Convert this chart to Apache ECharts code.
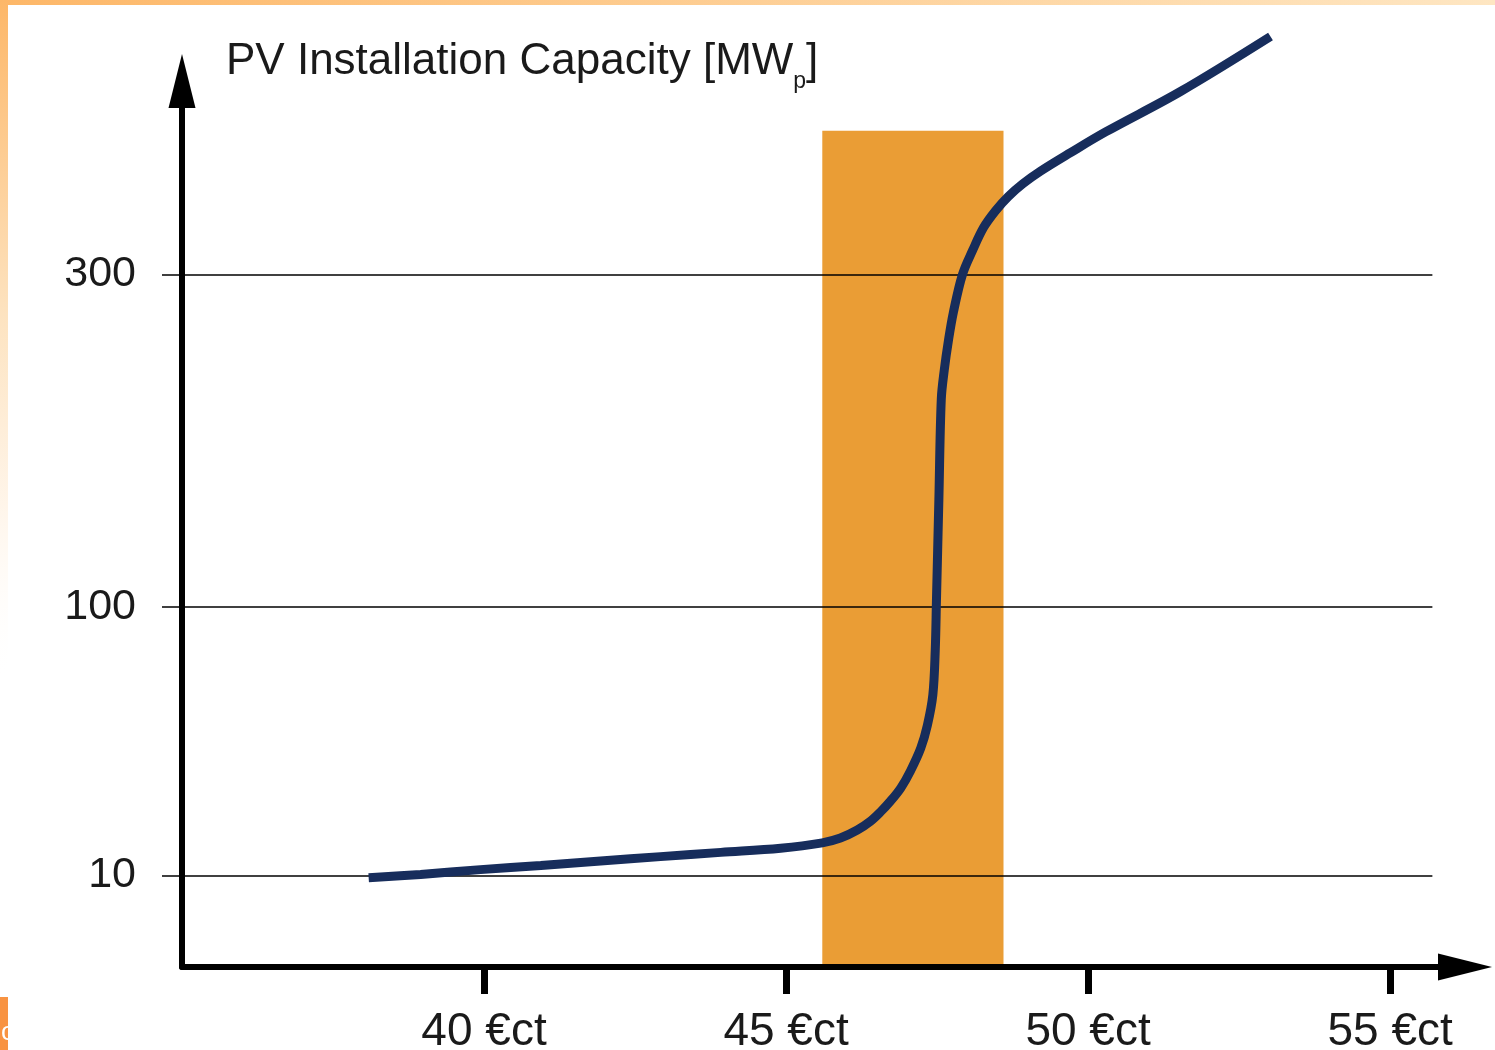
<!DOCTYPE html>
<html><head><meta charset="utf-8">
<script src="https://cdn.jsdelivr.net/npm/echarts@6/dist/echarts.min.js"></script>
<style>html,body{margin:0;padding:0;background:#fff}#c{width:1495px;height:1050px}</style>
</head><body><div id="c"></div>
<script>
// Feed-in tariff (€ct) vs PV installation capacity (MWp)
const priceCt = [38.09, 38.95, 39.94, 40.94, 41.93, 42.92, 43.92, 44.91, 45.60, 45.90, 46.18, 46.40, 46.56, 46.73, 46.90, 47.06, 47.23, 47.34, 47.43, 47.47, 47.49, 47.53, 47.57, 47.62, 47.69, 47.77, 47.92, 48.09, 48.27, 48.47, 48.68, 48.92, 49.21, 49.71, 50.29, 51.53, 53.02];
const capacityMWp = [9.6, 10.2, 11.1, 11.9, 12.8, 13.7, 14.6, 15.5, 16.7, 17.8, 19.7, 21.9, 24.2, 27.2, 30.9, 36.0, 43.3, 51.2, 62.4, 80.6, 103, 155, 215, 234, 254, 273, 300, 318, 335, 348, 359, 369, 379, 394, 411, 445, 493];
const xTickValues = [40, 45, 50, 55];
const yTickValues = [10, 100, 300];
const bandPrice = [45.6, 48.6];
const bandTopMWp = 412;
const yAxisTopMWp = 454;
const xAxisMin = 35, xAxisMax = 56.24, gridEndPrice = 55.7;
const P = 0.595;                       // schematic (power) scale of the y axis
const T = v => Math.pow(v, P);
const Tinv = u => Math.pow(u, 1 / P);

const FONT = '"Liberation Sans", Arial, Helvetica, sans-serif';
const TXT = '#1a1a1a';
const chart = echarts.init(document.getElementById('c'), null, {renderer: 'canvas'});
chart.setOption({
  animation: false,
  backgroundColor: '#ffffff',
  title: {
    text: '{a|PV Installation Capacity [MW}{b|p}{a|]}',
    left: 226, top: 31, padding: 0,
    textStyle: {
      fontWeight: 'normal',
      rich: {
        a: {fontFamily: FONT, fontSize: 44, fontWeight: 'normal', lineHeight: 62, color: TXT},
        b: {fontFamily: FONT, fontSize: 23, fontWeight: 'normal', lineHeight: 24, color: TXT, verticalAlign: 'bottom'}
      }
    }
  },
  graphic: [
    {type: 'rect', z: -10, shape: {x: 0, y: 0, width: 1495, height: 5},
      style: {fill: new echarts.graphic.LinearGradient(0, 0, 1, 0, [{offset: 0, color: '#fdb768'}, {offset: 1, color: '#fee6c2'}])}},
    {type: 'rect', z: -10, shape: {x: 0, y: 0, width: 8, height: 1050},
      style: {fill: new echarts.graphic.LinearGradient(0, 0, 0, 1, [{offset: 0, color: '#fdb768'}, {offset: 0.3, color: '#fde3c0'}, {offset: 0.5, color: '#fff7ee'}, {offset: 0.65, color: 'rgba(255,255,255,0)'}])}},
    {type: 'rect', z: -9, shape: {x: 0, y: 997, width: 8, height: 53}, style: {fill: '#f89342'}},
    {type: 'text', z: -8, x: 1, y: 1020, style: {text: 'c', fill: '#ffffff', font: '26px ' + FONT}}
  ],
  grid: {left: 182, right: 30, top: 81, bottom: 83, containLabel: false, outerBoundsMode: 'none'},
  xAxis: {
    type: 'value', min: xAxisMin, max: xAxisMax, z: 10,
    axisLine: {show: true, symbol: ['none', 'triangle'], symbolSize: [27, 54], lineStyle: {color: '#000', width: 6}},
    axisTick: {show: true, customValues: xTickValues, length: 27, lineStyle: {color: '#000', width: 7}},
    axisLabel: {show: true, customValues: xTickValues, formatter: v => v + ' €ct', fontFamily: FONT, fontSize: 46, color: TXT, margin: 42},
    splitLine: {show: false}
  },
  yAxis: {
    type: 'value', min: 0, max: T(yAxisTopMWp), z: 10,
    axisLine: {show: true, symbol: ['none', 'triangle'], symbolSize: [27, 54], lineStyle: {color: '#000', width: 6}},
    axisTick: {show: true, customValues: yTickValues.map(T), length: 20, lineStyle: {color: '#000', width: 1.5}},
    axisLabel: {show: true, customValues: yTickValues.map(T), formatter: v => String(Math.round(Tinv(v))), fontFamily: FONT, fontSize: 43, color: TXT, margin: 46},
    splitLine: {show: false}
  },
  series: [{
    type: 'line',
    data: priceCt.map((x, i) => [x, T(capacityMWp[i])]),
    clip: false,
    showSymbol: false,
    smooth: 0.35,
    z: 3,
    lineStyle: {color: '#172d5c', width: 9},
    markArea: {
      silent: true, z: 1,
      itemStyle: {color: '#ea9d35'},
      data: [[{xAxis: bandPrice[0], yAxis: 0}, {xAxis: bandPrice[1], yAxis: T(bandTopMWp)}]]
    },
    markLine: {
      silent: true, symbol: ['none', 'none'], z: 2,
      label: {show: false},
      lineStyle: {color: '#000', width: 1.5, type: 'solid'},
      data: yTickValues.map(v => [{coord: [xAxisMin, T(v)]}, {coord: [gridEndPrice, T(v)]}])
    }
  }]
});
</script></body></html>
